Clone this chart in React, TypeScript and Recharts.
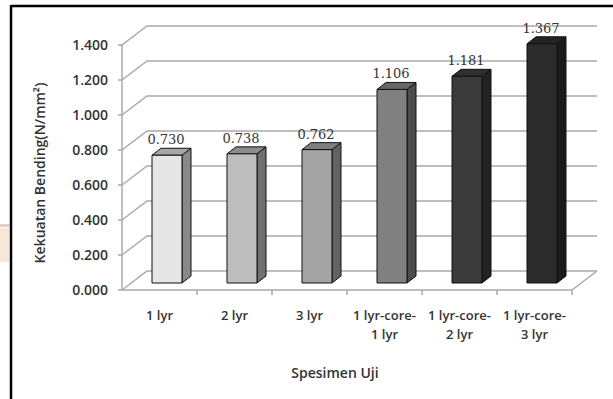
import React from 'react';
import { BarChart, Bar, XAxis, YAxis, CartesianGrid, LabelList, Cell } from 'recharts';

const categories = ['1 lyr', '2 lyr', '3 lyr', '1 lyr-core-1 lyr', '1 lyr-core-2 lyr', '1 lyr-core-3 lyr'];
const strength = [0.73, 0.738, 0.762, 1.106, 1.181, 1.367];
const yTicks = [0, 0.2, 0.4, 0.6, 0.8, 1.0, 1.2, 1.4];

const frontColors = ['#e6e6e6', '#bebebe', '#a4a4a4', '#808080', '#3a3a3a', '#2b2b2b'];
const sideColors = ['#8a8a8a', '#707070', '#626262', '#4c4c4c', '#222222', '#1a1a1a'];
const topColors = ['#a6a6a6', '#8c8c8c', '#7e7e7e', '#666666', '#2f2f2f', '#232323'];

const data = categories.map((name, i) => ({ name, value: strength[i] }));

// chart geometry
const W = 613;
const H = 399;
const M = { top: 45, right: 41, bottom: 49, left: 62 };
const Y_AXIS_W = 60;
const X_AXIS_H = 60;
const PLOT_LEFT = M.left + Y_AXIS_W;
const PLOT_RIGHT = W - M.right;
const PLOT_BOTTOM = H - M.bottom - X_AXIS_H;
const HALF_BAND = (PLOT_RIGHT - PLOT_LEFT) / categories.length / 2;

// 3d offsets
const WALL_DX = 25;
const WALL_DY = -19;
const BAR_SHIFT_X = 7;
const BAR_SHIFT_Y = -7;
const BAR_DX = 9;
const BAR_DY = -7;

const GRID = '#a9a9a9';
const TEXT = '#333';
const SANS = '"Open Sans", "Liberation Sans", sans-serif';

function Bar3D(props: any) {
  const { x, y, width, height, index } = props;
  const fx = x + BAR_SHIFT_X;
  const fy = y + BAR_SHIFT_Y;
  const front = `${fx},${fy} ${fx + width},${fy} ${fx + width},${fy + height} ${fx},${fy + height}`;
  const top = `${fx},${fy} ${fx + BAR_DX},${fy + BAR_DY} ${fx + width + BAR_DX},${fy + BAR_DY} ${fx + width},${fy}`;
  const side = `${fx + width},${fy} ${fx + width + BAR_DX},${fy + BAR_DY} ${fx + width + BAR_DX},${fy + height + BAR_DY} ${fx + width},${fy + height}`;
  return (
    <g stroke="#111" strokeWidth={1} strokeLinejoin="round">
      <polygon points={side} fill={sideColors[index]} />
      <polygon points={top} fill={topColors[index]} />
      <polygon points={front} fill={frontColors[index]} />
    </g>
  );
}

function gridLine(props: any) {
  const { x1, y1, x2, key } = props;
  const isFloor = Math.abs(y1 - PLOT_BOTTOM) < 1;
  return (
    <g key={key}>
      <polyline
        points={`${x1},${y1} ${x1 + WALL_DX},${y1 + WALL_DY} ${x2 + WALL_DX},${y1 + WALL_DY}`}
        fill="none"
        stroke={GRID}
        strokeWidth={1.5}
      />
      {isFloor && (
        <line x1={x2} y1={y1} x2={x2 + WALL_DX} y2={y1 + WALL_DY} stroke={GRID} strokeWidth={1.5} />
      )}
    </g>
  );
}

function CategoryTick(props: any) {
  const { x, payload } = props;
  const label: string = payload.value;
  const idx = label.indexOf('core-');
  const lines = idx >= 0 ? [label.slice(0, idx + 5), label.slice(idx + 5)] : [label];
  return (
    <g>
      <line x1={x + HALF_BAND} y1={PLOT_BOTTOM} x2={x + HALF_BAND} y2={PLOT_BOTTOM + 5} stroke={GRID} strokeWidth={1.5} />
      {lines.map((l, i) => (
        <text
          key={i}
          x={x}
          y={PLOT_BOTTOM + 30 + i * 19}
          textAnchor="middle"
          fontFamily={SANS}
          fontWeight={600}
          fontSize={13}
          fill={TEXT}
        >
          {l}
        </text>
      ))}
    </g>
  );
}

function ValueLabel(props: any) {
  const { x, y, width, value } = props;
  return (
    <text
      x={x + width / 2 + BAR_SHIFT_X - 1}
      y={y + BAR_SHIFT_Y - 11}
      textAnchor="middle"
      fontFamily='"DejaVu Serif", "Liberation Serif", serif'
      fontSize={13}
      fill={TEXT}
    >
      {Number(value).toFixed(3)}
    </text>
  );
}

function XTitle() {
  return (
    <text x={335} y={378} textAnchor="middle" fontFamily={SANS} fontWeight={600} fontSize={14} fill={TEXT}>
      Spesimen Uji
    </text>
  );
}

function YTitle() {
  return (
    <text
      x={45}
      y={173}
      transform="rotate(-90 45 173)"
      textAnchor="middle"
      fontFamily={SANS}
      fontWeight={600}
      fontSize={14}
      fill={TEXT}
    >
      Kekuatan Bending(N/mm²)
    </text>
  );
}

export default function App() {
  return (
    <div style={{ position: 'fixed', left: 0, top: 0, width: W, height: H, background: '#fff' }}>
      <svg width={W} height={H} style={{ position: 'absolute', left: 0, top: 0 }}>
        <rect x={0} y={228} width={9} height={34} fill="#f6e8d6" />
        <rect x={0} y={224} width={9} height={3} fill="#e9c9c9" />
        <line x1={11} y1={6} x2={W} y2={6} stroke="#000" strokeWidth={2.5} />
        <line x1={11} y1={5} x2={11} y2={H} stroke="#000" strokeWidth={2.5} />
      </svg>
      <div style={{ position: 'absolute', left: 0, top: 0 }}>
        <BarChart width={W} height={H} data={data} margin={M} barSize={30}>
          <CartesianGrid vertical={false} horizontal={gridLine} />
          <XAxis
            dataKey="name"
            height={X_AXIS_H}
            tickLine={false}
            axisLine={{ stroke: GRID, strokeWidth: 1.5 }}
            tick={<CategoryTick />}
            interval={0}
            label={<XTitle />}
          />
          <YAxis
            width={Y_AXIS_W}
            domain={[0, 1.4]}
            ticks={yTicks}
            tickFormatter={(v: number) => v.toFixed(3)}
            tick={{ fontFamily: SANS, fontWeight: 600, fontSize: 14, fill: TEXT }}
            tickSize={4}
            tickMargin={10}
            axisLine={{ stroke: GRID, strokeWidth: 1.5 }}
            tickLine={{ stroke: GRID, strokeWidth: 1.5 }}
            label={<YTitle />}
          />
          <Bar dataKey="value" shape={<Bar3D />} isAnimationActive={false}>
            {data.map((d, i) => (
              <Cell key={d.name} fill={frontColors[i]} />
            ))}
            <LabelList dataKey="value" content={<ValueLabel />} />
          </Bar>
        </BarChart>
      </div>
    </div>
  );
}
